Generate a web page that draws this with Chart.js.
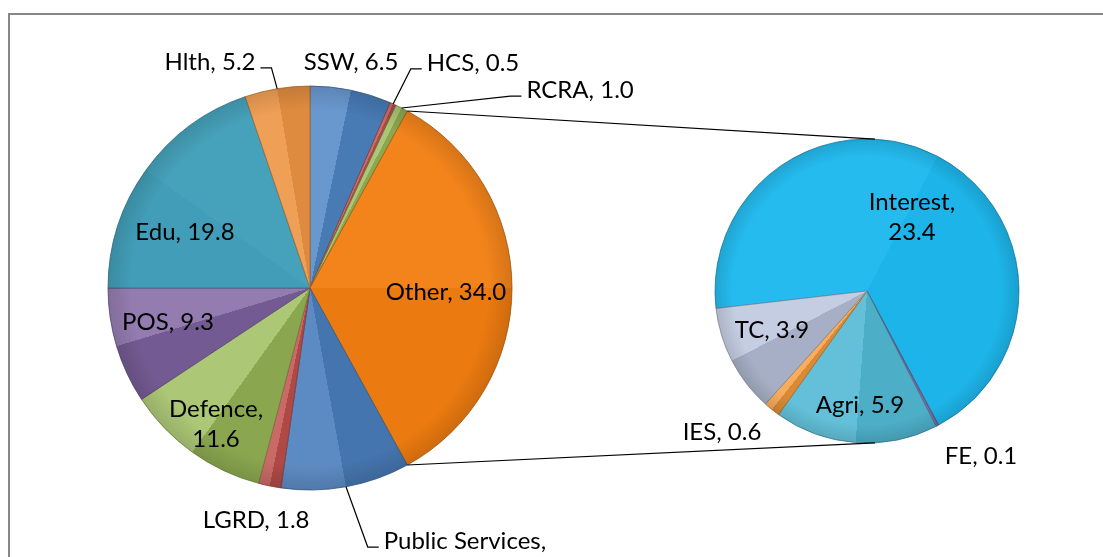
<!DOCTYPE html>
<html><head><meta charset="utf-8">
<script src="https://cdn.jsdelivr.net/npm/chart.js@4.4.1/dist/chart.umd.min.js"></script>
<style>
html,body{margin:0;padding:0;background:#fff;overflow:hidden}
#wrap{position:relative;width:1103px;height:557px;background:#fff}
canvas{position:absolute;left:0;top:0}
</style></head><body>
<div id="wrap"><canvas id="main" width="1103" height="557"></canvas><canvas id="sub" width="1103" height="557"></canvas></div>
<script>
// ---- data ----
const categories = ['SSW','HCS','RCRA','Other','Public Services','LGRD','Defence','POS','Edu','Hlth'];
const values = [6.5, 0.5, 1.0, 34.0, 10.3, 1.8, 11.6, 9.3, 19.8, 5.2];
const subCategories = ['Interest','FE','Agri','IES','TC'];
const subValues = [23.4, 0.1, 5.9, 0.6, 3.9];

// ---- styles ----
const mainColors = ['#4F86C6','#C0504D','#9BBB59','#F27E10','#4A7DBB','#C0504D','#9BBB59','#8064A2','#43A0BA','#EE9443'];
const subColors = ['#1EB9EE','#8064A2','#52B9D4','#F59A3C','#B9C3DC'];
const mainLabelPos = [[0.203,-1.119],[0.807,-1.114],[1.337,-0.98],[0.673,0.02],[0.767,1.327],[-0.267,1.149],[-0.465,0.673],[-0.703,0.168],[-0.619,-0.277],[-0.495,-1.119]];
const mainBreak = [false,false,false,false,true,false,true,false,false,false];
const mainLeader = [false,true,true,false,true,false,false,false,false,true];
const subLabelPos = [[0.296,-0.487],[0.75,1.086],[-0.046,0.75],[-0.954,0.928],[-0.625,0.257]];
const subBreak = [true,false,false,false,false];
const subLeader = [false,false,false,false,false];
const FONT = '24px Lato, "Open Sans", sans-serif';
const LINE_H = 30;
const MAIN_ROT = 0, SUB_ROT = 263.4;

function hexToRgb(h){h=h.replace('#','');return [parseInt(h.substr(0,2),16),parseInt(h.substr(2,2),16),parseInt(h.substr(4,2),16)];}
function shade(hex,t){const c=hexToRgb(hex);const r=c.map(v=>Math.round(t>=0? v+(255-v)*t : v*(1+t)));return 'rgb('+r.join(',')+')';}

function facetGradient(chart, vals, colors, rotDeg){
  if(chart.$grad) return chart.$grad;
  const ca = chart.chartArea; if(!ca) return colors[0];
  const cx=(ca.left+ca.right)/2, cy=(ca.top+ca.bottom)/2;
  const rad=Math.PI/180;
  const g = chart.ctx.createConicGradient((rotDeg-90)*rad, cx, cy);
  const total = vals.reduce((a,b)=>a+b,0);
  let acc=0;
  vals.forEach((v,i)=>{
    const s=acc/total, e=(acc+v)/total, m=(s+e)/2; acc+=v;
    const span=(e-s)*360;
    const k=0.11*Math.min(1,45/span);
    const midDeg = rotDeg + m*360;
    const fa=Math.cos((midDeg-90-315)*rad), fb=Math.cos((midDeg+90-315)*rad);
    const ca1=shade(colors[i],k*fa*(fa>0?1.6:1)), cb1=shade(colors[i],k*fb*(fb>0?1.6:1));
    g.addColorStop(Math.min(1,Math.max(0,s)),ca1);
    g.addColorStop(m,ca1);
    g.addColorStop(m,cb1);
    g.addColorStop(Math.min(1,Math.max(0,e)),cb1);
  });
  chart.$grad=g; return g;
}

function labelText(cat,v,brk){ return brk ? [cat+',', v.toFixed(1)] : [cat+', '+v.toFixed(1)]; }

function drawLabels(chart, cats, vals, pos, brk, leader){
  const ctx=chart.ctx; const meta=chart.getDatasetMeta(0);
  ctx.save();
  ctx.font=FONT; ctx.fillStyle='#000'; ctx.textAlign='center'; ctx.textBaseline='middle';
  ctx.strokeStyle='#000'; ctx.lineWidth=1.2;
  meta.data.forEach((arc,i)=>{
    const R=arc.outerRadius, cx=arc.x, cy=arc.y;
    const lx=cx+pos[i][0]*R, ly=cy+pos[i][1]*R;
    const lines=labelText(cats[i],vals[i],brk[i]);
    const y0=ly-(lines.length-1)*LINE_H/2;
    lines.forEach((t,j)=>ctx.fillText(t,lx,y0+j*LINE_H));
    if(leader[i]){
      const mid=(arc.startAngle+arc.endAngle)/2;
      const rx=cx+R*Math.cos(mid), ry=cy+R*Math.sin(mid);
      const w=ctx.measureText(lines[0]).width;
      const yy=y0+6;
      let e1,e2;
      if(lx<rx){e1=lx+w/2+5;e2=e1+11;} else {e1=lx-w/2-5;e2=e1-11;}
      ctx.beginPath(); ctx.moveTo(e1,yy); ctx.lineTo(e2,yy); ctx.lineTo(rx,ry); ctx.stroke();
    }
  });
  ctx.restore();
}

function rimShade(chart){
  const meta=chart.getDatasetMeta(0); const a=meta.data[0]; if(!a) return;
  const ctx=chart.ctx; const R=a.outerRadius;
  const g=ctx.createRadialGradient(a.x,a.y,R*0.88,a.x,a.y,R);
  g.addColorStop(0,'rgba(0,0,0,0)'); g.addColorStop(1,'rgba(0,0,0,0.12)');
  ctx.save(); ctx.beginPath(); ctx.arc(a.x,a.y,R,0,Math.PI*2); ctx.fillStyle=g; ctx.fill(); ctx.restore();
}

const frame = {id:'frame', beforeDraw(chart){const c=chart.ctx;c.save();c.fillStyle='#fff';c.fillRect(0,0,chart.width,chart.height);c.strokeStyle='#878787';c.lineWidth=2;c.strokeRect(9,14,1200,1200);c.restore();}};

const mainChart = new Chart(document.getElementById('main'),{
  type:'pie',
  data:{labels:categories,datasets:[{data:values,
    backgroundColor:(c)=>facetGradient(c.chart,values,mainColors,MAIN_ROT),
    borderColor:mainColors.map(c=>shade(c,-0.3)),borderWidth:0.8,radius:202}]},
  options:{responsive:false,devicePixelRatio:1,animation:false,events:[],rotation:MAIN_ROT,
    layout:{padding:{left:100,right:583,top:80,bottom:61}},
    plugins:{legend:{display:false},tooltip:{enabled:false}}},
  plugins:[frame,{id:'lbl',afterDatasetsDraw(ch){rimShade(ch);drawLabels(ch,categories,values,mainLabelPos,mainBreak,mainLeader);}}]
});

const subChart = new Chart(document.getElementById('sub'),{
  type:'pie',
  data:{labels:subCategories,datasets:[{data:subValues,
    backgroundColor:(c)=>facetGradient(c.chart,subValues,subColors,SUB_ROT),
    borderColor:subColors.map(c=>shade(c,-0.3)),borderWidth:0.8,radius:152}]},
  options:{responsive:false,devicePixelRatio:1,animation:false,events:[],rotation:SUB_ROT,
    layout:{padding:{left:700,right:69,top:130,bottom:105}},
    plugins:{legend:{display:false},tooltip:{enabled:false}}},
  plugins:[{id:'conn',afterDatasetsDraw(ch){
    rimShade(ch);
    const ctx=ch.ctx; const other=mainChart.getDatasetMeta(0).data[categories.indexOf('Other')];
    const s=ch.getDatasetMeta(0).data[0]; const R=s.outerRadius;
    const a=3*Math.PI/180;
    const p1=[other.x+other.outerRadius*Math.cos(other.startAngle), other.y+other.outerRadius*Math.sin(other.startAngle)];
    const p2=[other.x+other.outerRadius*Math.cos(other.endAngle), other.y+other.outerRadius*Math.sin(other.endAngle)];
    const q1=[s.x+R*Math.sin(a), s.y-R*Math.cos(a)];
    const q2=[s.x+R*Math.sin(a), s.y+R*Math.cos(a)];
    ctx.save(); ctx.strokeStyle='#000'; ctx.lineWidth=1.2;
    ctx.beginPath(); ctx.moveTo(p1[0],p1[1]); ctx.lineTo(q1[0],q1[1]); ctx.moveTo(p2[0],p2[1]); ctx.lineTo(q2[0],q2[1]); ctx.stroke();
    ctx.restore();
    drawLabels(ch,subCategories,subValues,subLabelPos,subBreak,subLeader);
  }}]
});
</script></body></html>
